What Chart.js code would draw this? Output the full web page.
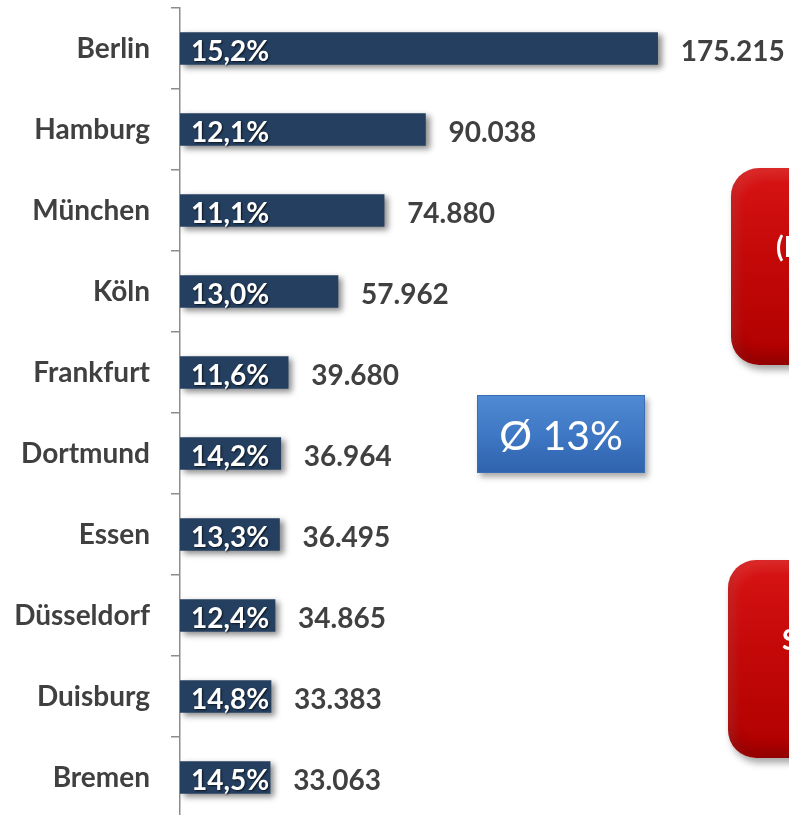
<!DOCTYPE html>
<html>
<head>
<meta charset="utf-8">
<script src="https://cdn.jsdelivr.net/npm/chart.js@4"></script>
<style>
  html, body { margin: 0; padding: 0; background: #fff; width: 789px; height: 815px; overflow: hidden; }
  #wrap { position: absolute; left: 0; top: 0; width: 789px; height: 820px; }
  canvas { position: absolute; left: 0; top: 0; }
  .redbox {
    position: absolute; width: 220px; height: 197px; border-radius: 28px;
    background: linear-gradient(to bottom, #d81414 0%, #c40808 45%, #b00000 100%);
    box-shadow: 3px 5px 7px rgba(0,0,0,0.35), inset 0 -10px 14px rgba(0,0,0,0.18), inset 6px 8px 12px rgba(255,255,255,0.10);
    font-family: Lato, "Open Sans", sans-serif; font-weight: bold; font-size: 28px; line-height: 28px; color: #fff;
  }
  .redbox span { position: absolute; white-space: nowrap; }
  #avg {
    position: absolute; left: 477px; top: 395px; width: 166px; height: 76px;
    background: linear-gradient(to bottom, #4f8ad4 0%, #3f78c4 50%, #2f63ad 100%);
    border: 1px solid #3a6db3;
    box-shadow: 3px 4px 6px rgba(0,0,0,0.35);
    color: #fff; font-family: Lato, "Open Sans", sans-serif; font-size: 41px; font-weight: normal;
    display: flex; align-items: center; justify-content: center;
  }
</style>
</head>
<body>
<div id="wrap">
  <canvas id="c" width="789" height="820"></canvas>
</div>
<div id="avg">Ø 13%</div>
<div class="redbox" style="left:731px; top:168px; height:197px;"><span style="left:45px; top:64px;">(I</span></div>
<div class="redbox" style="left:728px; top:560px; height:198px;"><span style="left:54px; top:65px;">S</span></div>
<script>
const cities = ["Berlin", "Hamburg", "München", "Köln", "Frankfurt", "Dortmund", "Essen", "Düsseldorf", "Duisburg", "Bremen"];
const values = [175215, 90038, 74880, 57962, 39680, 36964, 36495, 34865, 33383, 33063];
const valueLabels = ["175.215", "90.038", "74.880", "57.962", "39.680", "36.964", "36.495", "34.865", "33.383", "33.063"];
const shares = ["15,2%", "12,1%", "11,1%", "13,0%", "11,6%", "14,2%", "13,3%", "12,4%", "14,8%", "14,5%"];

const FONT = 'Lato, "Open Sans", sans-serif';

const shadowPlugin = {
  id: 'barShadow',
  beforeDatasetsDraw(chart) {
    const ctx = chart.ctx;
    ctx.save();
    ctx.shadowColor = 'rgba(0,0,0,0.45)';
    ctx.shadowBlur = 6;
    ctx.shadowOffsetX = 4;
    ctx.shadowOffsetY = 3;
  },
  afterDatasetsDraw(chart) {
    chart.ctx.restore();
  }
};

const labelPlugin = {
  id: 'barLabels',
  afterDatasetsDraw(chart) {
    const ctx = chart.ctx;
    const meta = chart.getDatasetMeta(0);
    meta.data.forEach((bar, i) => {
      const left = bar.base;
      const right = bar.x;
      const y = bar.y;
      ctx.save();
      ctx.font = 'bold 28px ' + FONT;
      ctx.textAlign = 'left';
      ctx.textBaseline = 'alphabetic';
      ctx.shadowColor = 'rgba(0,0,0,0.7)';
      ctx.shadowBlur = 2;
      ctx.shadowOffsetX = 1;
      ctx.shadowOffsetY = 1;
      ctx.fillStyle = '#ffffff';
      ctx.fillText(shares[i], left + 11, y + 12);
      ctx.restore();
      ctx.save();
      ctx.font = 'bold 28px ' + FONT;
      ctx.textAlign = 'left';
      ctx.textBaseline = 'alphabetic';
      ctx.fillStyle = '#404040';
      ctx.fillText(valueLabels[i], right + 23, y + 12);
      ctx.restore();
    });
  }
};

new Chart(document.getElementById('c'), {
  type: 'bar',
  data: {
    labels: cities,
    datasets: [{
      data: values,
      backgroundColor: '#243f60',
      borderWidth: 0,
      barThickness: 32
    }]
  },
  options: {
    indexAxis: 'y',
    responsive: false,
    animation: false,
    devicePixelRatio: 1,
    layout: { padding: { top: 8, bottom: 2, left: 0, right: 0 } },
    plugins: { legend: { display: false }, tooltip: { enabled: false } },
    scales: {
      x: { display: false, min: 0, max: 223400 },
      y: {
        afterFit(scale) { scale.width = 180; scale.paddingTop = 0; scale.paddingBottom = 0; },
        grid: { drawOnChartArea: false, drawTicks: true, tickLength: 9, color: '#8c8c8c', lineWidth: 1.5, offset: true },
        border: { color: '#8c8c8c', width: 1.5 },
        ticks: { color: '#404040', font: { family: FONT, weight: 'bold', size: 28 }, padding: 21 }
      }
    }
  },
  plugins: [shadowPlugin, labelPlugin]
});
</script>
</body>
</html>
